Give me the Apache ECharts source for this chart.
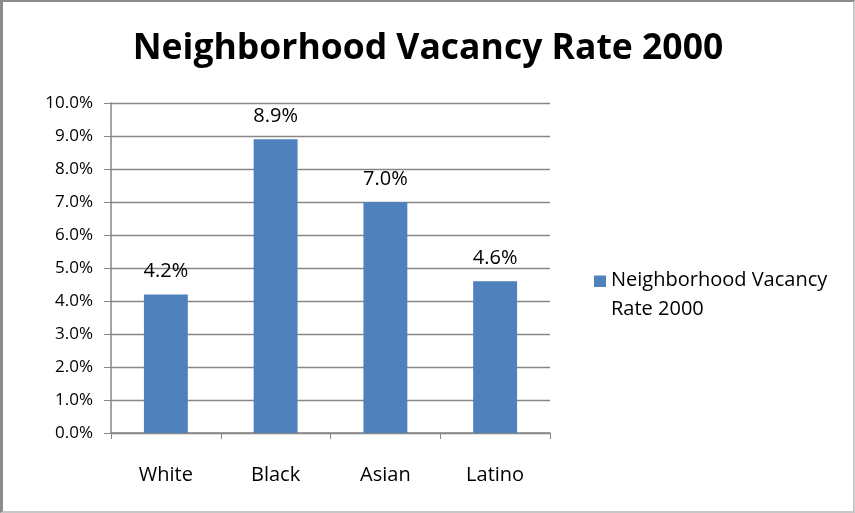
<!DOCTYPE html>
<html>
<head>
<meta charset="utf-8">
<script src="https://cdn.jsdelivr.net/npm/echarts@6/dist/echarts.min.js"></script>
<style>
  html, body { margin: 0; padding: 0; background: #fff; }
  #chart { width: 855px; height: 513px; box-sizing: border-box; border-top: 2px solid #8c8c8c; border-left: 3px solid #8c8c8c; border-bottom: 2px solid #c8c8c8; border-right: 2px solid #c8c8c8; }
</style>
</head>
<body>
<div id="chart"></div>
<script>
  var categories = ['White', 'Black', 'Asian', 'Latino'];
  var vacancyRate = [4.2, 8.9, 7.0, 4.6];
  var seriesName = 'Neighborhood Vacancy Rate 2000';

  var font = '"Open Sans", sans-serif';
  var chart = echarts.init(document.getElementById('chart'));
  var option = {
    animation: false,
    title: {
      text: 'Neighborhood Vacancy Rate 2000',
      left: 'center',
      top: 24,
      textStyle: { fontFamily: font, fontWeight: 'bold', fontSize: 35.5, color: '#000' }
    },
    legend: {
      orient: 'vertical',
      left: 586,
      top: 259,
      itemWidth: 12,
      itemHeight: 39,
      itemGap: 8,
      // square sitting next to the first line of the wrapped name
      icon: 'path://M0,0 L12,0 L12,11.5 L0,11.5 Z M0,39 L0.01,39 Z',
      formatter: function () { return 'Neighborhood Vacancy\nRate 2000'; },
      textStyle: { fontFamily: font, fontSize: 20, color: '#000', lineHeight: 29 },
      data: [seriesName]
    },
    grid: { left: 108, right: 303, top: 101, bottom: 78 },
    xAxis: {
      type: 'category',
      data: categories,
      axisLine: { lineStyle: { color: '#868686', width: 1.5 } },
      axisTick: { show: true, length: 6, lineStyle: { color: '#868686' } },
      axisLabel: { fontFamily: font, fontSize: 20, color: '#000', margin: 32 }
    },
    yAxis: {
      type: 'value',
      min: 0,
      max: 10,
      interval: 1,
      axisLine: { show: true, lineStyle: { color: '#868686', width: 1.5 } },
      axisTick: { show: true, length: 7, lineStyle: { color: '#868686' } },
      splitLine: { lineStyle: { color: '#868686', width: 1.3 } },
      axisLabel: {
        fontFamily: font, fontSize: 17, color: '#000', margin: 18,
        formatter: function (v) { return v.toFixed(1) + '%'; }
      }
    },
    series: [{
      name: seriesName,
      type: 'bar',
      data: vacancyRate,
      barCategoryGap: '60%',
      itemStyle: { color: '#4F81BD' },
      label: {
        show: true,
        position: 'top',
        distance: 13,
        fontFamily: font, fontSize: 20, color: '#000',
        formatter: function (p) { return p.value.toFixed(1) + '%'; }
      }
    }]
  };
  chart.setOption(option);
</script>
</body>
</html>
